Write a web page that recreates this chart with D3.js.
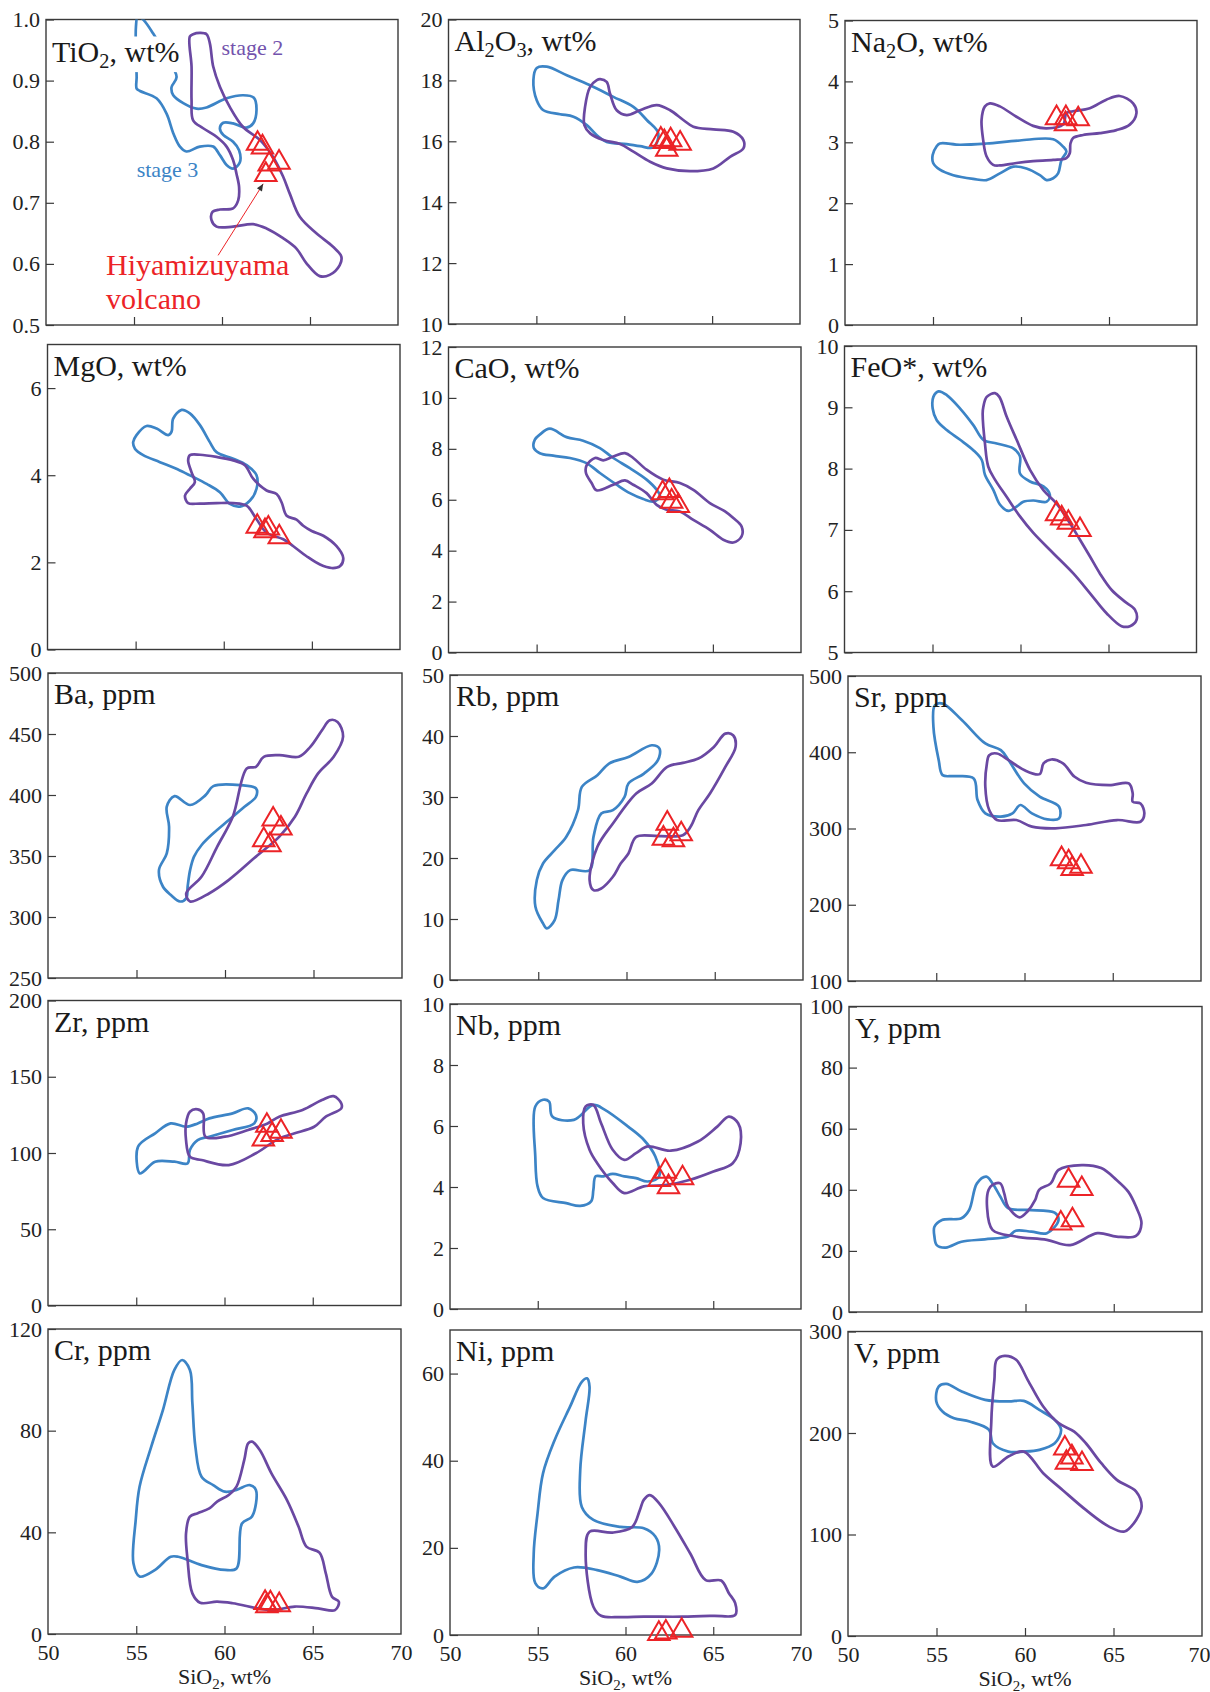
<!DOCTYPE html>
<html><head><meta charset="utf-8">
<script src="https://cdn.jsdelivr.net/npm/d3@7"></script>
<style>body{margin:0;background:#fff}svg{display:block}svg text{font-family:'Liberation Serif','Times New Roman',serif}</style>
</head><body><div id="chart"></div>
<script>
// ---------------- DATA ----------------
const sio2Ticks = [50, 55, 60, 65, 70];

const tio2Stage3 = [[57.42,0.906],[57.13,0.889],[57.23,0.876],[57.80,0.863],[58.55,0.854],[59.12,0.856],[60.26,0.871],[61.20,0.876],[61.81,0.872],[61.96,0.852],[61.77,0.830],[61.39,0.823],[60.63,0.830],[60.07,0.831],[59.88,0.822],[60.07,0.811],[60.63,0.800],[60.97,0.786],[61.01,0.766],[60.63,0.756],[60.26,0.762],[59.88,0.778],[59.50,0.792],[58.74,0.792],[57.98,0.784],[57.61,0.792],[57.23,0.814],[56.85,0.846],[56.28,0.871],[55.34,0.883],[55.15,0.887],[55.15,0.906],[55.11,0.950],[55.11,0.988],[55.22,1.006],[55.55,0.999],[56.09,0.977],[56.75,0.944]];
const tio2Stage2 = [[58.17,0.972],[58.27,0.923],[58.27,0.868],[58.36,0.835],[58.93,0.822],[59.69,0.808],[60.26,0.792],[60.63,0.770],[60.82,0.748],[60.97,0.726],[60.92,0.704],[60.63,0.691],[59.88,0.689],[59.46,0.685],[59.40,0.672],[59.69,0.661],[60.63,0.661],[61.77,0.665],[62.53,0.658],[63.47,0.642],[64.23,0.625],[64.80,0.601],[65.55,0.580],[66.12,0.582],[66.69,0.598],[66.78,0.612],[66.31,0.628],[65.36,0.650],[64.42,0.677],[63.85,0.715],[63.47,0.743],[62.90,0.775],[62.15,0.803],[61.20,0.824],[60.44,0.857],[59.88,0.890],[59.50,0.923],[59.31,0.961],[59.12,0.976],[58.74,0.978],[58.36,0.976]];
const tio2Hiyami = [[62.02,0.797],[62.30,0.791],[63.24,0.766],[62.68,0.763],[62.49,0.746]];

const al2o3Stage3 = [[54.83,18.01],[55.02,17.35],[55.40,17.02],[56.35,16.89],[57.11,16.81],[57.87,16.53],[58.44,16.20],[59.00,15.98],[60.14,15.91],[60.90,15.84],[61.66,15.80],[61.94,16.26],[61.28,16.70],[60.52,17.13],[59.38,17.46],[58.06,17.84],[56.73,18.17],[55.59,18.45],[55.02,18.41]];
const al2o3Stage2 = [[58.63,18.04],[59.00,17.95],[59.19,17.57],[59.57,17.02],[60.14,16.86],[60.90,17.02],[61.85,17.19],[62.61,17.02],[63.36,16.70],[63.93,16.48],[65.07,16.39],[66.21,16.31],[66.78,16.04],[66.78,15.77],[66.02,15.49],[65.07,15.11],[63.74,15.02],[62.42,15.11],[61.47,15.33],[60.52,15.66],[59.76,15.91],[58.82,16.04],[58.06,16.26],[57.73,16.53],[57.77,17.13],[58.06,17.79],[58.44,18.01]];
const al2o3Hiyami = [[62.08,16.06],[62.64,16.04],[63.18,15.93],[62.28,15.98],[62.42,15.73]];

const na2oStage3 = [[55.39,2.98],[56.53,2.96],[58.04,2.98],[59.93,3.03],[61.83,3.05],[62.39,2.93],[62.58,2.85],[62.30,2.71],[62.11,2.49],[61.83,2.41],[61.45,2.38],[61.07,2.46],[60.31,2.57],[59.56,2.60],[58.80,2.49],[58.04,2.38],[57.28,2.40],[56.15,2.46],[55.39,2.55],[55.01,2.66],[54.98,2.79],[55.20,2.93]];
const na2oStage2 = [[57.95,3.59],[58.23,3.64],[58.80,3.59],[59.74,3.42],[60.69,3.27],[61.45,3.23],[62.39,3.29],[62.58,3.48],[62.96,3.51],[63.91,3.56],[64.85,3.70],[65.61,3.76],[66.37,3.64],[66.56,3.48],[66.18,3.29],[65.42,3.20],[64.48,3.15],[63.53,3.12],[62.96,3.07],[62.81,2.98],[62.77,2.82],[62.58,2.74],[61.83,2.71],[60.69,2.69],[59.74,2.66],[58.80,2.62],[58.42,2.63],[58.04,2.77],[57.85,3.04],[57.76,3.37]];
const na2oHiyami = [[62.02,3.40],[62.55,3.40],[63.25,3.38],[62.53,3.30]];

const mgoStage3 = [[54.86,4.76],[55.05,4.92],[55.62,5.13],[56.19,5.07],[56.85,4.92],[57.04,5.00],[57.13,5.30],[57.61,5.50],[58.08,5.42],[58.65,5.15],[59.21,4.76],[59.59,4.53],[60.54,4.38],[61.30,4.23],[61.86,4.00],[61.86,3.69],[61.49,3.42],[60.92,3.28],[60.35,3.34],[59.78,3.61],[59.03,3.80],[58.27,3.96],[57.51,4.11],[56.38,4.30],[55.43,4.46],[54.96,4.61]];
const mgoStage2 = [[58.08,4.46],[58.65,4.47],[59.59,4.42],[60.54,4.34],[61.20,4.23],[61.67,3.92],[62.43,3.65],[63.00,3.57],[63.28,3.38],[63.57,3.07],[64.13,2.98],[64.51,2.84],[64.99,2.72],[65.65,2.61],[66.40,2.37],[66.78,2.10],[66.59,1.91],[66.12,1.87],[65.46,1.95],[64.70,2.14],[63.95,2.37],[63.38,2.53],[62.43,2.68],[61.86,2.99],[61.30,3.30],[60.54,3.36],[59.59,3.36],[58.65,3.35],[57.98,3.36],[57.80,3.53],[58.08,3.69],[58.36,3.84],[58.17,4.07],[57.98,4.34]];
const mgoHiyami = [[61.90,2.82],[62.53,2.78],[63.15,2.58],[62.34,2.72]];

const caoStage3 = [[54.90,8.36],[55.18,8.56],[55.75,8.79],[56.70,8.46],[57.64,8.32],[58.59,8.03],[59.35,7.64],[60.29,7.24],[61.24,6.79],[61.81,6.39],[62.00,6.13],[61.62,5.93],[61.05,6.03],[60.29,6.26],[59.54,6.59],[58.59,7.05],[57.83,7.44],[56.89,7.64],[55.94,7.73],[55.18,7.83],[54.84,8.03]];
const caoStage2 = [[57.83,7.34],[58.31,7.64],[58.78,7.55],[59.35,7.70],[60.01,7.83],[60.48,7.64],[61.24,7.18],[62.19,6.79],[63.13,6.66],[63.89,6.39],[64.83,5.87],[65.69,5.54],[66.16,5.28],[66.63,4.95],[66.63,4.56],[66.16,4.32],[65.59,4.43],[64.83,4.82],[63.89,5.21],[63.13,5.54],[62.37,5.61],[61.81,5.80],[61.24,6.26],[60.48,6.59],[60.01,6.76],[59.35,6.59],[58.40,6.37],[58.12,6.66],[57.80,7.05]];
const caoHiyami = [[62.15,6.26],[62.53,6.35],[62.66,5.93],[63.04,5.76]];

const feoStage3 = [[55.05,9.17],[55.34,9.26],[55.81,9.20],[56.57,8.98],[57.32,8.71],[57.89,8.47],[58.65,8.41],[59.59,8.33],[59.97,8.20],[59.97,7.92],[60.54,7.79],[61.30,7.71],[61.67,7.57],[61.49,7.46],[60.73,7.48],[60.16,7.46],[59.78,7.38],[59.31,7.31],[58.84,7.41],[58.46,7.65],[57.98,7.90],[57.80,8.14],[57.32,8.30],[56.57,8.47],[55.81,8.63],[55.24,8.79],[55.01,8.98]];
const feoStage2 = [[58.08,9.17],[58.55,9.23],[58.80,9.17],[59.21,8.85],[59.78,8.47],[60.54,7.98],[61.30,7.65],[62.05,7.43],[62.81,7.11],[63.38,6.84],[63.94,6.57],[64.51,6.29],[65.18,6.02],[65.93,5.83],[66.50,5.70],[66.59,5.53],[66.22,5.43],[65.74,5.43],[64.89,5.64],[63.94,5.97],[63.00,6.29],[61.86,6.62],[60.73,6.95],[59.97,7.22],[59.21,7.54],[58.55,7.82],[58.17,8.03],[57.98,8.41],[57.85,8.90],[57.89,9.01]];
const feoHiyami = [[62.05,7.26],[62.34,7.19],[62.72,7.12],[63.38,7.00]];

const baStage3 = [[56.71,390.4],[57.15,399.1],[58.03,391.8],[58.90,399.9],[59.34,407.3],[60.88,408.1],[61.75,405.4],[61.75,398.6],[61.10,390.4],[60.22,379.5],[59.34,368.6],[58.68,359.0],[58.25,349.5],[58.03,338.6],[57.89,325.0],[57.81,315.4],[57.46,312.7],[56.93,318.2],[56.49,325.0],[56.27,338.6],[56.71,352.2],[56.84,374.0]];
const baStage2 = [[57.81,319.5],[58.68,333.2],[59.56,357.7],[60.44,382.2],[61.23,421.8],[61.75,423.1],[62.19,431.3],[63.07,432.7],[64.17,431.3],[64.82,439.5],[65.48,453.1],[65.92,461.3],[66.36,459.9],[66.67,447.7],[66.14,431.3],[65.26,417.7],[64.61,401.3],[63.95,382.2],[63.07,365.9],[61.75,349.5],[60.22,330.4],[59.12,319.5],[58.03,312.7]];
const baHiyami = [[62.72,380.0],[63.16,372.7],[62.19,363.1],[62.54,359.0]];

const rbStage3 = [[55.27,9.28],[54.84,12.01],[54.92,16.38],[55.27,19.10],[55.93,21.29],[56.59,23.47],[57.25,27.84],[57.47,31.66],[58.35,33.57],[59.01,35.48],[60.11,36.57],[61.43,38.48],[61.87,37.94],[61.78,36.03],[60.99,33.84],[60.11,32.21],[59.89,30.02],[59.23,27.84],[58.57,27.29],[58.13,23.47],[57.91,18.01],[56.81,18.01],[56.37,16.38],[56.15,13.10],[55.93,9.83],[55.49,8.46]];
const rbStage2 = [[58.13,14.74],[57.91,16.38],[58.35,21.83],[59.23,25.66],[60.55,30.57],[61.43,32.21],[62.31,34.93],[63.19,35.59],[64.07,36.30],[64.95,38.21],[65.60,40.39],[66.04,40.12],[66.18,38.21],[65.60,34.93],[64.73,30.57],[64.07,27.84],[63.63,25.11],[63.19,23.74],[61.87,23.58],[60.55,23.47],[60.11,20.74],[59.67,19.10],[59.23,16.92],[58.57,15.01]];
const rbHiyami = [[62.31,25.66],[63.10,23.91],[62.09,23.20],[62.66,22.93]];

const srStage3 = [[54.92,461.6],[55.36,463.8],[56.46,442.0],[57.78,411.5],[58.66,402.7],[59.10,389.6],[59.98,359.1],[60.86,341.7],[61.96,328.6],[61.96,313.3],[61.30,312.0],[60.42,319.8],[59.76,330.8],[59.32,319.8],[58.66,315.5],[57.78,319.8],[57.34,337.3],[57.12,365.7],[56.02,368.7],[55.36,370.0],[55.14,389.6],[54.84,433.3]];
const srStage2 = [[58.00,396.2],[58.44,398.4],[59.10,389.6],[59.98,376.6],[60.86,371.3],[61.08,385.3],[61.52,390.5],[62.18,385.3],[62.84,367.8],[63.49,360.0],[64.81,356.9],[65.91,359.1],[66.13,346.0],[66.13,335.1],[66.57,332.9],[66.79,319.8],[66.57,308.9],[65.25,311.1],[63.49,304.6],[61.74,300.2],[60.42,302.4],[59.54,311.1],[58.44,311.1],[58.00,324.2],[57.78,354.7],[57.87,385.3]];
const srHiyami = [[62.10,260],[62.50,256],[62.70,247],[63.20,250]];

const zrStage3 = [[55.19,86.7],[55.10,104.1],[56.07,112.9],[56.95,119.4],[57.82,117.2],[58.48,119.4],[59.14,122.7],[60.46,126.0],[61.34,129.3],[61.78,124.9],[61.69,119.4],[60.46,115.1],[59.14,110.7],[58.48,108.5],[58.04,102.0],[57.91,93.2],[57.16,94.3],[56.07,94.3],[55.41,87.8]];
const zrStage2 = [[58.04,127.1],[58.48,128.6],[58.79,126.0],[58.92,110.7],[60.02,110.7],[61.34,115.1],[62.44,119.4],[63.10,123.8],[64.42,128.2],[65.52,134.7],[66.18,137.3],[66.62,132.5],[66.62,129.3],[65.74,123.8],[65.08,117.2],[63.98,112.9],[63.10,109.6],[61.78,99.8],[60.24,92.1],[58.70,95.4],[58.04,97.6],[57.82,108.5],[57.82,119.4]];
const zrHiyami = [[62.40,118],[63.20,114],[62.20,109],[62.70,112]];

const nbStage3 = [[54.86,6.64],[55.30,6.86],[55.65,6.80],[55.83,6.31],[57.06,6.20],[58.17,6.69],[58.83,6.53],[60.15,5.98],[61.04,5.55],[61.70,5.00],[61.92,4.35],[61.26,4.18],[60.60,4.29],[59.93,4.35],[59.27,4.43],[58.74,4.35],[58.30,4.35],[58.17,3.91],[58.04,3.53],[57.42,3.38],[56.62,3.47],[55.30,3.64],[54.99,4.02],[54.86,5.00]];
const nbStage2 = [[57.73,6.64],[58.17,6.69],[58.61,6.09],[59.27,5.22],[59.93,4.89],[60.60,5.11],[61.26,5.33],[62.58,5.19],[64.13,5.49],[65.23,5.98],[65.89,6.31],[66.42,6.09],[66.56,5.44],[66.11,4.78],[65.01,4.51],[63.69,4.24],[62.36,4.07],[61.04,4.02],[59.93,3.80],[59.27,4.13],[58.39,4.78],[57.95,5.22],[57.59,6.09]];
const nbHiyami = [[62.27,4.51],[63.25,4.29],[62.45,4.00],[61.92,4.24]];

const yStage3 = [[54.84,24.7],[54.84,27.9],[55.27,30.1],[56.37,30.7],[56.81,33.4],[57.25,42.1],[57.78,44.3],[58.13,42.1],[58.57,37.8],[59.01,34.0],[60.11,33.4],[61.65,32.5],[61.87,30.1],[61.21,25.8],[60.33,26.3],[59.45,26.6],[59.01,24.7],[57.69,23.8],[56.37,23.0],[55.49,21.1],[54.97,21.9]];
const yStage2 = [[58.13,41.6],[58.57,42.1],[58.79,38.9],[59.01,34.5],[59.67,31.0],[60.11,32.9],[60.55,36.7],[60.77,40.0],[61.43,42.1],[61.87,46.5],[63.19,48.1],[64.29,47.1],[65.16,43.2],[65.82,39.4],[66.26,34.5],[66.57,29.0],[66.26,24.9],[65.16,24.7],[64.07,25.8],[62.53,21.9],[61.21,23.6],[59.45,24.7],[58.13,26.9],[57.82,34.5],[57.91,40.0]];
const yHiyami = [[62.44,43.0],[63.19,40.3],[62.00,29.0],[62.66,30.1]];

const crStage3 = [[55.19,58.0],[55.85,73.7],[56.51,88.1],[57.16,103.9],[57.60,107.8],[58.04,103.9],[58.18,90.8],[58.35,73.7],[58.70,61.9],[59.36,58.6],[60.02,56.0],[60.68,56.7],[61.43,58.6],[61.78,56.7],[61.56,46.2],[60.99,43.5],[60.68,25.8],[60.02,25.2],[58.70,27.1],[57.38,30.4],[56.95,30.4],[56.07,25.2],[55.19,22.6],[54.84,27.8],[54.97,44.9]];
const crStage2 = [[61.34,75.0],[61.56,75.7],[62.00,72.4],[62.66,63.2],[63.54,52.7],[64.20,42.2],[64.64,34.4],[65.38,32.0],[65.74,23.9],[66.09,14.7],[66.48,12.7],[66.26,9.4],[65.30,10.1],[63.98,10.8],[62.66,9.4],[60.46,12.1],[59.58,12.7],[58.62,12.3],[58.18,16.0],[57.91,29.1],[57.82,39.6],[58.04,46.2],[58.48,47.5],[59.14,49.4],[59.58,52.1],[60.24,54.7],[60.68,58.0],[61.12,68.5]];
const crHiyami = [[62.30,12.3],[62.60,12.1],[63.10,11.4],[62.40,11.0]];

const niStage3 = [[55.30,37.1],[55.96,44.7],[56.84,52.4],[57.51,58.1],[57.81,58.9],[57.95,57.0],[57.73,49.3],[57.42,37.8],[57.51,29.4],[58.17,26.4],[59.71,24.8],[61.04,24.5],[61.70,22.6],[61.92,19.5],[61.48,14.1],[60.68,12.2],[59.71,13.4],[58.39,14.9],[57.06,15.5],[55.96,13.4],[55.30,10.7],[54.86,11.9],[54.77,18.7],[54.99,27.9]];
const niStage2 = [[61.04,31.0],[61.39,32.1],[61.92,30.2],[62.80,24.8],[63.69,18.7],[64.57,12.6],[65.45,12.5],[65.89,9.6],[66.25,7.3],[66.25,4.6],[65.01,4.4],[63.25,4.2],[61.04,4.2],[59.71,4.1],[58.61,4.4],[58.17,6.5],[57.73,18.7],[57.95,23.7],[59.27,23.5],[60.38,24.8],[60.82,28.7]];
const niHiyami = [[61.90,0.3],[62.30,0.6],[63.20,1.0]];

const vStage3 = [[55.12,245.8],[55.56,248.4],[56.43,240.9],[57.75,232.7],[59.06,231.1],[59.93,231.7],[60.81,222.8],[61.68,212.9],[62.04,203.1],[61.68,189.9],[60.81,183.4],[59.93,181.7],[59.06,181.7],[58.18,189.9],[57.97,203.1],[56.87,211.3],[55.99,214.6],[55.34,221.2],[54.99,231.1]];
const vStage2 = [[58.40,272.1],[58.84,276.0],[59.50,272.1],[60.15,252.4],[61.03,226.1],[61.90,209.7],[62.78,201.4],[63.44,189.9],[64.31,170.2],[65.19,153.8],[66.28,142.3],[66.59,127.5],[66.28,114.4],[65.62,102.9],[64.75,107.8],[63.44,124.2],[62.12,143.9],[61.03,160.4],[59.93,181.7],[59.06,176.8],[58.18,166.9],[58.10,212.9],[58.27,252.4]];
const vHiyami = [[62.25,184.9],[62.65,176.1],[63.22,169.6],[62.34,170.9]];

const titles = ["TiO_2, wt%","Al_2O_3, wt%","Na_2O, wt%","MgO, wt%","CaO, wt%","FeO*, wt%","Ba, ppm","Rb, ppm","Sr, ppm","Zr, ppm","Nb, ppm","Y, ppm","Cr, ppm","Ni, ppm","V, ppm"];
const yDomains = [[0.5,1.0],[10,20],[0,5],[0,7],[0,12],[5,10],[250,500],[0,50],[100,500],[0,200],[0,10],[0,100],[0,120],[0,70],[0,300]];
const yTickLists = [
  [0.5,0.6,0.7,0.8,0.9,1.0],[10,12,14,16,18,20],[0,1,2,3,4,5],[0,2,4,6],[0,2,4,6,8,10,12],[5,6,7,8,9,10],
  [250,300,350,400,450,500],[0,10,20,30,40,50],[100,200,300,400,500],[0,50,100,150,200],[0,2,4,6,8,10],[0,20,40,60,80,100],
  [0,40,80,120],[0,20,40,60],[0,100,200,300]];
const stage3Series = [tio2Stage3,al2o3Stage3,na2oStage3,mgoStage3,caoStage3,feoStage3,baStage3,rbStage3,srStage3,zrStage3,nbStage3,yStage3,crStage3,niStage3,vStage3];
const stage2Series = [tio2Stage2,al2o3Stage2,na2oStage2,mgoStage2,caoStage2,feoStage2,baStage2,rbStage2,srStage2,zrStage2,nbStage2,yStage2,crStage2,niStage2,vStage2];
const hiyamiSeries = [tio2Hiyami,al2o3Hiyami,na2oHiyami,mgoHiyami,caoHiyami,feoHiyami,baHiyami,rbHiyami,srHiyami,zrHiyami,nbHiyami,yHiyami,crHiyami,niHiyami,vHiyami];
const xAxisTitle = "SiO_2, wt%";

// annotation anchors (panel 1) in data units
const stage2Label = {text:"stage 2", x:59.97, y:0.942};
const stage3Label = {text:"stage 3", x:55.15, y:0.743};
const volcanoLabel = {lines:["Hiyamizuyama","volcano"], x:53.41, y:[0.582,0.527]};
const volcanoArrow = [[59.78,0.614],[62.34,0.731]];

// ---------------- LAYOUT ----------------
const frames = [
  [46,19.5,398,325],[448.5,19.5,800,324],[845,20.5,1197,325],
  [47.5,344.5,400,649.5],[448.5,347,801,652.5],[844.5,346,1196.5,652.5],
  [48,673,402,978],[450,675,803,980],[848,676,1201,981],
  [48,1000.5,401,1305.5],[450,1004,801,1309],[849,1006.5,1202,1312],
  [48,1329,401,1634],[450,1330,801,1635],[848,1331.5,1202,1636]];
const BLUE = "#3c84c6", PURPLE = "#6a48a2", RED = "#ec2327", FRAME = "#3a3a3a";
const FONT = "'Liberation Serif','Times New Roman',serif";

const svg = d3.select("#chart").append("svg").attr("width",1210).attr("height",1692)
  .style("font-family",FONT);

function richText(sel, str, size){
  const parts = str.split(/_(\d)/);
  let back = 0;
  parts.forEach((p,i)=>{
    if(p==="") return;
    if(i%2===1){
      sel.append("tspan").attr("font-size",size*0.68).attr("dy",size*0.22).text(p);
      back = -size*0.22;
    } else {
      const t = sel.append("tspan").text(p);
      if(back){ t.attr("dy",back); back = 0; }
    }
  });
}

const defs = svg.append("defs");

frames.forEach((f,i)=>{
  const [L,T,R,B] = f;
  const x = d3.scaleLinear().domain([50,70]).range([L,R]);
  const y = d3.scaleLinear().domain(yDomains[i]).range([B,T]);
  const g = svg.append("g");
  const bottomRow = i>=12;

  defs.append("clipPath").attr("id","clip"+i).append("rect")
    .attr("x",L).attr("y",T).attr("width",R-L).attr("height",B-T);

  // y axis (ticks inward)
  const fmt = i===0 ? d3.format(".1f") : d3.format("d");
  const ya = g.append("g").attr("transform",`translate(${L},0)`)
    .call(d3.axisLeft(y).tickValues(yTickLists[i]).tickFormat(fmt).tickSizeInner(-8).tickSizeOuter(0).tickPadding(6));
  ya.attr("font-family",null);
  ya.select(".domain").remove();
  ya.selectAll("line").attr("stroke",FRAME).attr("stroke-width",1.2);
  ya.selectAll("text").style("font-family",FONT).attr("font-size",22).attr("fill","#222");

  // x axis (ticks inward); labels only on the bottom row
  const xa = g.append("g").attr("transform",`translate(0,${B})`)
    .call(d3.axisBottom(x).tickValues(sio2Ticks).tickFormat(d3.format("d")).tickSizeInner(-8).tickSizeOuter(0).tickPadding(10));
  xa.attr("font-family",null);
  xa.select(".domain").remove();
  xa.selectAll(".tick").filter(d=>d===50||d===70).select("line").remove();
  if(!bottomRow) xa.selectAll("text").remove();
  xa.selectAll("line").attr("stroke",FRAME).attr("stroke-width",1.2);
  xa.selectAll("text").style("font-family",FONT).attr("font-size",22).attr("fill","#222");
  if(i===14) xa.selectAll(".tick").filter(d=>d===70).select("text").attr("text-anchor","end").attr("dx",8);

  // frame
  g.append("rect").attr("x",L).attr("y",T).attr("width",R-L).attr("height",B-T)
    .attr("fill","none").attr("stroke",FRAME).attr("stroke-width",1.4);

  const line = d3.line().x(d=>x(d[0])).y(d=>y(d[1])).curve(d3.curveCatmullRomClosed.alpha(0.5));
  const fields = g.append("g").attr("clip-path",`url(#clip${i})`);
  fields.append("path").attr("d",line(stage3Series[i])).attr("fill","none")
    .attr("stroke",BLUE).attr("stroke-width",2.7).attr("stroke-linejoin","round");
  fields.append("path").attr("d",line(stage2Series[i])).attr("fill","none")
    .attr("stroke",PURPLE).attr("stroke-width",2.7).attr("stroke-linejoin","round");

  // title (panel 1 has white backing that masks the field outline)
  const tt = g.append("text").attr("x",L+6).attr("y", i===0 ? T+42 : T+31)
    .attr("font-size",30).attr("fill","#1a1a1a");
  richText(tt, titles[i], 30);
  if(i===0){
    const bb = tt.node().getBBox();
    g.insert("rect", () => tt.node()).attr("x",bb.x-4).attr("y",bb.y+2).attr("width",bb.width+8).attr("height",bb.height-2).attr("fill","#fff");
  }

  // Hiyamizuyama samples
  const tri = d3.symbol().type(d3.symbolTriangle).size(200);
  g.selectAll("path.tri").data(hiyamiSeries[i]).join("path").attr("class","tri")
    .attr("d",tri).attr("transform",d=>`translate(${x(d[0])},${y(d[1])})`)
    .attr("fill","none").attr("stroke",RED).attr("stroke-width",2);

  if(i===0){
    g.append("text").attr("x",x(stage2Label.x)).attr("y",y(stage2Label.y)).attr("font-size",22).attr("fill","#7353ad").text(stage2Label.text);
    g.append("text").attr("x",x(stage3Label.x)).attr("y",y(stage3Label.y)).attr("font-size",22).attr("fill",BLUE).text(stage3Label.text);
    volcanoLabel.lines.forEach((t,k)=>{
      g.append("text").attr("x",x(volcanoLabel.x)).attr("y",y(volcanoLabel.y[k])).attr("font-size",30).attr("fill",RED).text(t);
    });
    const [a,b] = volcanoArrow.map(p=>[x(p[0]),y(p[1])]);
    g.append("line").attr("x1",a[0]).attr("y1",a[1]).attr("x2",b[0]).attr("y2",b[1]).attr("stroke",RED).attr("stroke-width",1);
    const ang = Math.atan2(b[1]-a[1], b[0]-a[0])*180/Math.PI;
    g.append("path").attr("d","M0,0 L-7,-3 L-7,3 Z").attr("fill","#333")
      .attr("transform",`translate(${b[0]},${b[1]}) rotate(${ang})`);
  }

  if(bottomRow){
    const xt = g.append("text").attr("x",(L+R)/2).attr("y",B+50).attr("text-anchor","middle")
      .attr("font-size",22).attr("fill","#222");
    richText(xt, xAxisTitle, 22);
  }
});
</script>
</body></html>
